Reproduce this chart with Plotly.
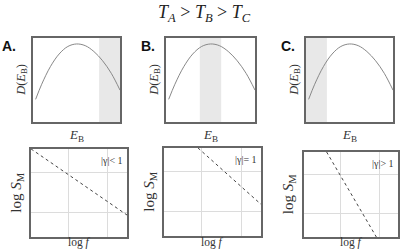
import plotly.graph_objects as go

# ---- data ----
panel_letters = ["A.", "B.", "C."]
curve_x = [0.03, 0.1, 0.2, 0.3, 0.4, 0.5, 0.6, 0.7, 0.8, 0.9, 1.0]
curve_y = [0.27, 0.45, 0.66, 0.81, 0.90, 0.93, 0.91, 0.84, 0.73, 0.58, 0.38]
shade_lo = [0.76, 0.38, 0.0]
shade_hi = [1.0, 0.62, 0.24]
spec_x = [[0.0, 1.0], [0.35, 1.0], [0.24, 0.77]]
spec_y = [[1.0, 0.25], [1.0, 0.36], [1.0, 0.0]]
gamma_labels = ["|γ|< 1", "|γ|= 1", "|γ|> 1"]
grid_x = [0.39, 0.8]
grid_y = [0.28, 0.73]

top_dom_x = [[0.0825, 0.30], [0.415, 0.6375], [0.765, 0.9825]]
top_dom_y = [[0.51, 0.847], [0.51, 0.847], [0.51, 0.847]]
bot_dom_x = [[0.0775, 0.3175], [0.41, 0.6525], [0.76, 0.995]]
bot_dom_y = [[0.048, 0.402], [0.052, 0.406], [0.048, 0.39]]
letter_x = [0.0, 0.347, 0.697]

fig = go.Figure()
layout = dict(
    width=400, height=249, margin=dict(l=0, r=0, t=0, b=0),
    paper_bgcolor="white", plot_bgcolor="white", showlegend=False,
)
frame = dict(showline=True, linecolor="#666", linewidth=1.5, mirror=True,
             zeroline=False, showticklabels=False, ticks="", range=[0, 1], fixedrange=True)
shapes = []
annotations = []
serif = "Liberation Serif, Times New Roman, serif"

for i in range(3):
    # top panel
    n = 2 * i + 1
    xa = "x" if n == 1 else f"x{n}"
    ya = "y" if n == 1 else f"y{n}"
    layout["xaxis" if n == 1 else f"xaxis{n}"] = dict(frame, domain=top_dom_x[i], anchor=ya, showgrid=False)
    layout["yaxis" if n == 1 else f"yaxis{n}"] = dict(frame, domain=top_dom_y[i], anchor=xa, showgrid=False)
    fig.add_trace(go.Scatter(x=curve_x, y=curve_y, mode="lines", xaxis=xa, yaxis=ya,
                             line=dict(color="#888", width=1, shape="spline"), hoverinfo="skip"))
    shapes.append(dict(type="rect", xref=xa, yref=ya, x0=shade_lo[i], x1=shade_hi[i], y0=0, y1=1,
                       fillcolor="#e8e8e8", line=dict(width=0), layer="below"))
    # bottom panel
    m = 2 * i + 2
    xb = f"x{m}"
    yb = f"y{m}"
    layout[f"xaxis{m}"] = dict(frame, domain=bot_dom_x[i], anchor=yb, showgrid=True,
                               tickvals=grid_x, gridcolor="#dcdcdc", gridwidth=1)
    layout[f"yaxis{m}"] = dict(frame, domain=bot_dom_y[i], anchor=xb, showgrid=True,
                               tickvals=grid_y, gridcolor="#dcdcdc", gridwidth=1)
    fig.add_trace(go.Scatter(x=spec_x[i], y=spec_y[i], mode="lines", xaxis=xb, yaxis=yb,
                             line=dict(color="#444", width=1, dash="dot"), hoverinfo="skip"))

    # texts
    tcx = (top_dom_x[i][0] + top_dom_x[i][1]) / 2
    bcx = (bot_dom_x[i][0] + bot_dom_x[i][1]) / 2
    annotations.append(dict(text=f"<b>{panel_letters[i]}</b>", xref="paper", yref="paper",
                            x=letter_x[i], y=top_dom_y[i][1] + 0.01,
                            xanchor="left", yanchor="top", showarrow=False,
                            font=dict(family="Liberation Sans, Arial, sans-serif", size=14, color="#111")))
    annotations.append(dict(text="<i>D</i>(<i>E</i><sub>B</sub>)", xref="paper", yref="paper",
                            x=top_dom_x[i][0] - 0.003, y=(top_dom_y[i][0] + top_dom_y[i][1]) / 2,
                            xanchor="right", yanchor="middle", textangle=-90, showarrow=False,
                            font=dict(family=serif, size=12.5, color="#333")))
    annotations.append(dict(text="<i>E</i><sub>B</sub>", xref="paper", yref="paper",
                            x=tcx, y=top_dom_y[i][0] - 0.012, xanchor="center", yanchor="top",
                            showarrow=False, font=dict(family=serif, size=13, color="#333")))
    annotations.append(dict(text="log <i>S</i><sub>M</sub>", xref="paper", yref="paper",
                            x=bot_dom_x[i][0] - 0.008, y=(bot_dom_y[i][0] + bot_dom_y[i][1]) / 2,
                            xanchor="right", yanchor="middle", textangle=-90, showarrow=False,
                            font=dict(family=serif, size=15, color="#333")))
    annotations.append(dict(text="log <i>f</i>", xref="paper", yref="paper",
                            x=bcx, y=0.026, xanchor="center", yanchor="middle",
                            showarrow=False, font=dict(family=serif, size=11.5, color="#333")))
    annotations.append(dict(text=gamma_labels[i], xref="paper", yref="paper",
                            x=bot_dom_x[i][1] - 0.004, y=bot_dom_y[i][1] - 0.015,
                            xanchor="right", yanchor="top", showarrow=False,
                            font=dict(family=serif, size=10, color="#333")))

annotations.append(dict(text="<i>T<sub>A</sub></i> > <i>T<sub>B</sub></i> > <i>T<sub>C</sub></i>",
                        xref="paper", yref="paper", x=0.5125, y=1.0, xanchor="center", yanchor="top",
                        showarrow=False, font=dict(family=serif, size=18, color="#222")))

layout["shapes"] = shapes
layout["annotations"] = annotations
fig.update_layout(**layout)
fig.write_html("out.html", config={"displayModeBar": False},
               post_script="document.body.style.margin='0';document.body.style.padding='0';")
